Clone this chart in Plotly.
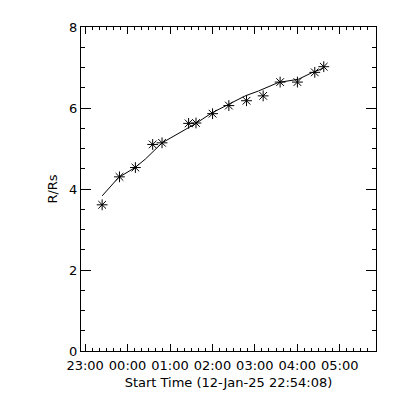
import plotly.graph_objects as go

# Observed points (time, R/Rs)
obs_time = [
    "2025-01-12 23:24:02", "2025-01-12 23:48:32", "2025-01-13 00:11:03",
    "2025-01-13 00:35:30", "2025-01-13 00:48:45", "2025-01-13 01:26:18",
    "2025-01-13 01:36:45", "2025-01-13 02:00:12", "2025-01-13 02:23:14",
    "2025-01-13 02:48:12", "2025-01-13 03:11:45", "2025-01-13 03:35:45",
    "2025-01-13 04:00:12", "2025-01-13 04:24:44", "2025-01-13 04:37:26",
]
obs_r = [3.61, 4.30, 4.53, 5.10, 5.14, 5.62, 5.63, 5.86, 6.06,
         6.18, 6.30, 6.64, 6.64, 6.88, 7.02]

# Fitted curve
fit_time = [
    "2025-01-12 23:24:02", "2025-01-12 23:47:03", "2025-01-13 00:11:03",
    "2025-01-13 00:25:14", "2025-01-13 00:48:48", "2025-01-13 01:12:12",
    "2025-01-13 01:35:44", "2025-01-13 01:59:20", "2025-01-13 02:22:50",
    "2025-01-13 02:46:26", "2025-01-13 03:05:08", "2025-01-13 03:33:20",
    "2025-01-13 04:01:38", "2025-01-13 04:20:32", "2025-01-13 04:36:32",
]
fit_r = [3.83, 4.28, 4.535, 4.74, 5.14, 5.37, 5.61, 5.88, 6.10,
         6.30, 6.42, 6.63, 6.71, 6.87, 6.98]

x_range = ["2025-01-12 22:54:08", "2025-01-13 05:51:20"]
y_range = [0, 8]
x_title = "Start Time (12-Jan-25 22:54:08)"
y_title = "R/Rs"

FONT = "DejaVu Sans"

fig = go.Figure()
fig.add_trace(go.Scatter(x=fit_time, y=fit_r, mode="lines",
                         line=dict(color="black", width=1), showlegend=False))
fig.add_trace(go.Scatter(x=obs_time, y=obs_r, mode="markers",
                         marker=dict(symbol="asterisk-open", size=9, color="black",
                                     line=dict(color="black", width=1)),
                         showlegend=False))

fig.update_layout(
    width=400, height=400,
    margin=dict(l=73, r=32, t=16, b=57),
    paper_bgcolor="white", plot_bgcolor="white",
    font=dict(family=FONT, size=13, color="black"),
    showlegend=False,
)
fig.update_xaxes(
    range=x_range, type="date",
    tickformat="%H:%M", tick0="2025-01-12 23:00", dtick=3600000,
    ticks="inside", ticklen=7, tickwidth=1, tickcolor="black",
    minor=dict(dtick=600000, tick0="2025-01-12 23:00", ticks="inside",
               ticklen=3, tickcolor="black", showgrid=False),
    showline=True, linecolor="black", linewidth=1, mirror="ticks",
    showgrid=False, zeroline=False,
    ticklabelstandoff=2,
    title=dict(text=x_title, standoff=6, font=dict(size=13)),
    tickfont=dict(size=13),
)
fig.update_yaxes(
    range=y_range, tick0=0, dtick=2,
    ticks="inside", ticklen=10, tickwidth=1, tickcolor="black",
    minor=dict(dtick=0.5, ticks="inside", ticklen=4, tickcolor="black", showgrid=False),
    showline=True, linecolor="black", linewidth=1, mirror="ticks",
    showgrid=False, zeroline=False,
    title=dict(text=y_title, standoff=8, font=dict(size=13)),
    tickfont=dict(size=13),
)

fig.write_html("out.html")
